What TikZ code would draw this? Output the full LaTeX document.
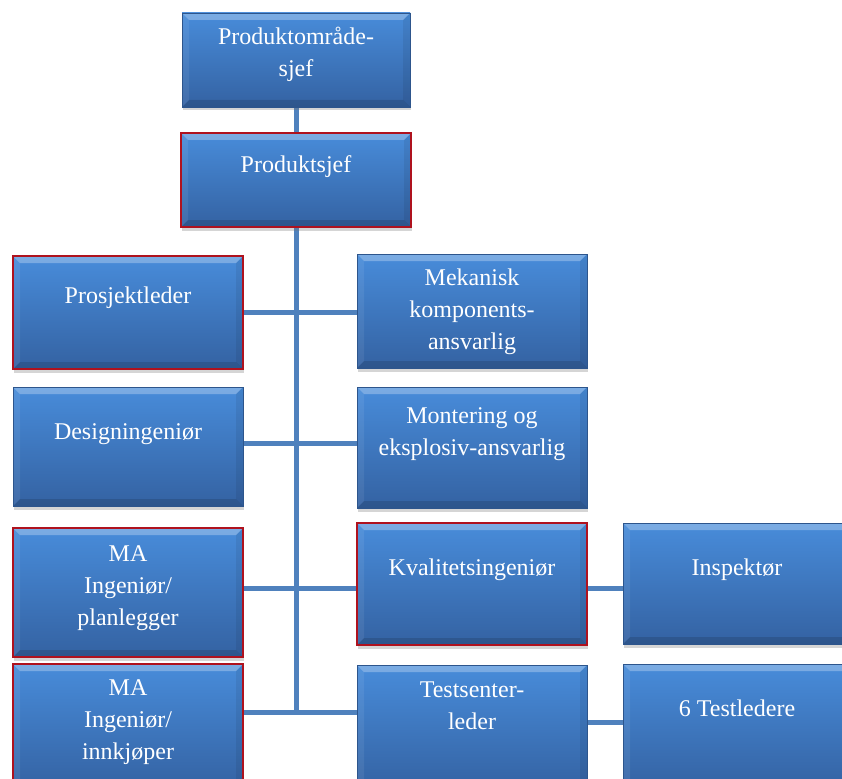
\documentclass[tikz,border=0pt]{standalone}
\usepackage{fontspec}
\setmainfont{Liberation Serif}
\usetikzlibrary{shadows,backgrounds}
\definecolor{boxtop}{RGB}{72,140,218}
\definecolor{boxbot}{RGB}{52,98,162}
\definecolor{boxedge}{RGB}{45,85,140}
\definecolor{redge}{RGB}{175,18,30}
\definecolor{linkc}{RGB}{79,129,189}
\tikzset{
  box/.style={rectangle, inner sep=0pt, draw=boxedge, line width=0.8pt,
    top color=boxtop, bottom color=boxbot,
    drop shadow={shadow xshift=1pt, shadow yshift=-3.5pt, opacity=0.3, fill=black!55},
    path picture={
      \fill[white,opacity=0.28] (path picture bounding box.north west) -- (path picture bounding box.north east)
        -- ([shift={(-7pt,-7pt)}]path picture bounding box.north east) -- ([shift={(7pt,-7pt)}]path picture bounding box.north west) -- cycle;
      \fill[white,opacity=0.07] (path picture bounding box.north west) -- ([shift={(7pt,-7pt)}]path picture bounding box.north west)
        -- ([shift={(7pt,7pt)}]path picture bounding box.south west) -- (path picture bounding box.south west) -- cycle;
      \fill[black,opacity=0.13] (path picture bounding box.south west) -- (path picture bounding box.south east)
        -- ([shift={(-7pt,7pt)}]path picture bounding box.south east) -- ([shift={(7pt,7pt)}]path picture bounding box.south west) -- cycle;
      \fill[black,opacity=0.07] (path picture bounding box.north east) -- ([shift={(-7pt,-7pt)}]path picture bounding box.north east)
        -- ([shift={(-7pt,7pt)}]path picture bounding box.south east) -- (path picture bounding box.south east) -- cycle;
    }},
  redbox/.style={box, draw=redge, line width=2.6pt},
  lbl/.style={text=white, font=\fontsize{24}{32}\selectfont, align=center, inner sep=0pt},
  link/.style={draw=linkc, line width=5pt}
}
\begin{document}
\begin{tikzpicture}[x=1pt,y=-1pt]
\useasboundingbox (0,0) rectangle (842,778);
\clip (0,0) rectangle (842,778);
% boxes
\node[box, minimum width=228, minimum height=94] (b1) at (296,60) {};
\node[redbox, minimum width=230, minimum height=94] (b2) at (296,180) {};
\node[redbox, minimum width=230, minimum height=113] (pl) at (128,312.5) {};
\node[box, minimum width=230, minimum height=114] (mk) at (472,311) {};
\node[box, minimum width=230, minimum height=119] (de) at (128,446.5) {};
\node[box, minimum width=230, minimum height=121] (mo) at (472,447.5) {};
\node[redbox, minimum width=230, minimum height=129] (ma1) at (128,592.5) {};
\node[redbox, minimum width=230, minimum height=122] (kv) at (472,584) {};
\node[box, minimum width=230, minimum height=121] (in) at (738,583.5) {};
\node[redbox, minimum width=230, minimum height=126] (ma2) at (128,727) {};
\node[box, minimum width=230, minimum height=126] (ts) at (472,728) {};
\node[box, minimum width=230, minimum height=126] (tl) at (738,727) {};
% junctions
\coordinate (j1) at (296,312);
\coordinate (j2) at (296,443);
\coordinate (j3) at (296,588);
\coordinate (tend) at (296,712);
\coordinate (j5) at (605,722);
\begin{scope}[on background layer]
\draw[link] (b1.south) -- (b2.north);
\draw[link] (b2.south) -- (tend);
\draw[link] (pl.east |- j1) -- (mk.west |- j1);
\draw[link] (de.east |- j2) -- (mo.west |- j2);
\draw[link] (ma1.east |- j3) -- (kv.west |- j3);
\draw[link] (ma2.east |- tend) -- (ts.west |- tend);
\draw[link] (kv.east |- j3) -- (in.west |- j3);
\draw[link] (ts.east |- j5) -- (tl.west |- j5);
\end{scope}
% labels
\node[lbl] (t1) at (296,54) {Produktområde-\\sjef};
\node[lbl] (t2) at (296,167) {Produktsjef};
\node[lbl] (t3) at (128,298) {Prosjektleder};
\node[lbl] (t4) at (472,312) {Mekanisk\\komponents-\\ansvarlig};
\node[lbl] (t5) at (472,434) {Montering og\\eksplosiv-ansvarlig};
\node[lbl] (t6) at (128,434) {Designingeniør};
\node[lbl] (t7) at (128,588) {MA\\Ingeniør/\\planlegger};
\node[lbl] (t8) at (472,570) {Kvalitetsingeniør};
\node[lbl] (t9) at (737,570) {Inspektør};
\node[lbl] (t10) at (472,706) {Testsenter-\\leder};
\node[lbl] (t11) at (737,708) {6 Testledere};
\node[lbl] (t12) at (128,722) {MA\\Ingeniør/\\innkjøper};
\end{tikzpicture}
\end{document}
